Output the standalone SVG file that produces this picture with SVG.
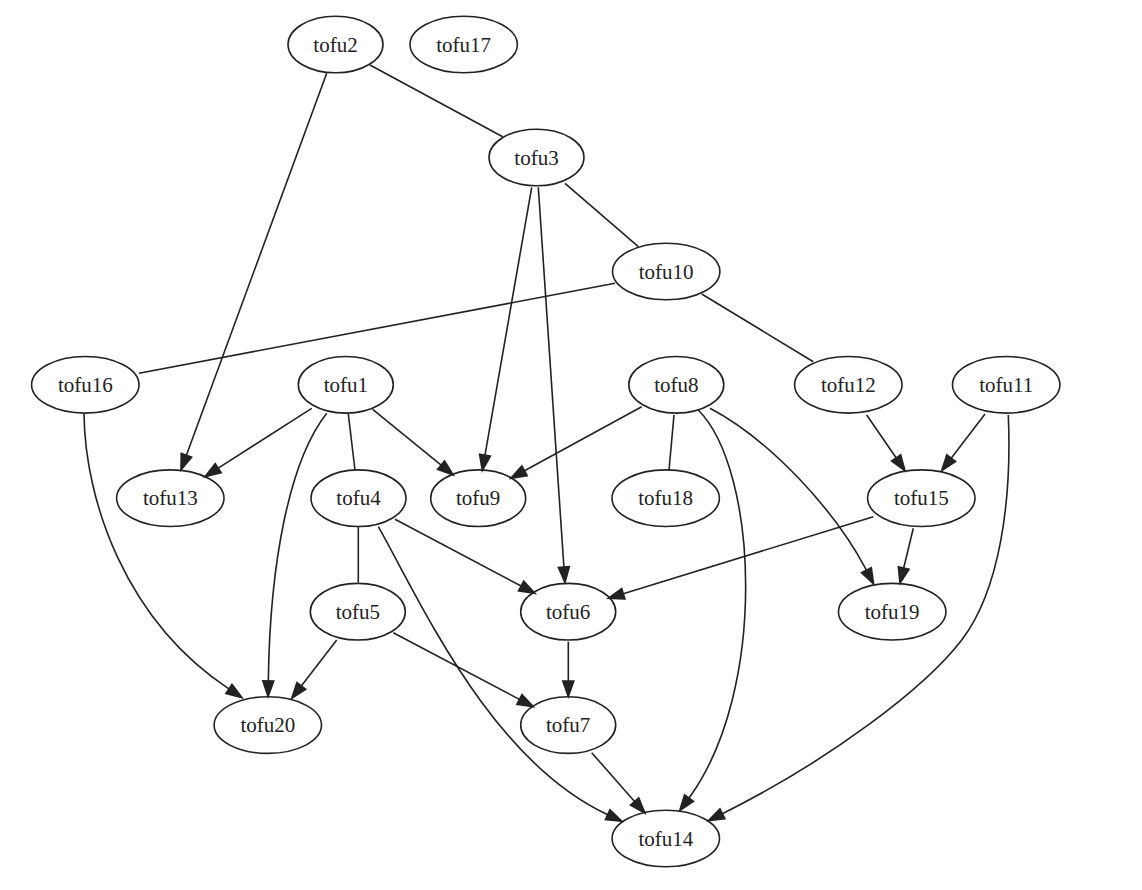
<svg xmlns="http://www.w3.org/2000/svg" width="1142" height="890" viewBox="0 0 1142 890">
<style>
.n ellipse{fill:none;stroke:#222;stroke-width:1.6}
.n text{font-family:"Liberation Serif","Times New Roman",serif;font-size:21px;fill:#222;text-anchor:middle}
.e path{fill:none;stroke:#222;stroke-width:1.6}
.e path.a{marker-end:url(#arr)}
</style>
<defs>
<marker id="arr" markerUnits="userSpaceOnUse" viewBox="0 -7 18 14" markerWidth="18" markerHeight="14" refX="0" refY="0" orient="auto" overflow="visible">
<path d="M0,-5.5 L15.7,0 L0,5.5 z" fill="#222" stroke="#222" stroke-width="1.6"/>
</marker>
</defs>
<rect width="1142" height="890" fill="#fff"/>
<g id="edges" class="e">
<path d="M370,65 L502.7,136.7"/>
<path class="a" d="M326.7,73.3 L186.4,455.3"/>
<path class="a" d="M531.7,187.3 L485,455.2"/>
<path class="a" d="M538.3,187.3 L563.9,567"/>
<path d="M565,183.3 L638.3,246.7"/>
<path d="M615,283.3 L139,373.3"/>
<path d="M701.7,294 L813.3,361.7"/>
<path class="a" d="M84,414 C85,500 125,620 228.9,688.9"/>
<path class="a" d="M311.7,408.3 L218.2,468.2"/>
<path class="a" d="M326.7,413.3 C290,460 270,560 268.3,681"/>
<path d="M348.3,414 L355,470"/>
<path class="a" d="M372.7,409.3 L441.1,465.1"/>
<path class="a" d="M641.7,406.7 L524.5,470.8"/>
<path d="M674,415 L669,470"/>
<path class="a" d="M698.3,410 C758,470 768,690 689,798"/>
<path class="a" d="M710,408.3 C770,440 835,510 866.4,570.2"/>
<path class="a" d="M866.7,415 L896.1,457.8"/>
<path class="a" d="M985,414 L951.2,458.2"/>
<path class="a" d="M1008.3,415 C1012,500 1000,590 961.7,640 C925,688 830,760 722.4,813.7"/>
<path class="a" d="M873.3,516.7 L623.3,593.7"/>
<path class="a" d="M913.3,528.3 L903.7,568"/>
<path d="M358.3,526.7 L358.3,582.7"/>
<path class="a" d="M395,519.3 L521.1,586"/>
<path class="a" d="M378.3,526.7 C420,600 490,760 607.7,814.7"/>
<path class="a" d="M336.7,640 L301.3,685.9"/>
<path class="a" d="M393.3,632.7 L519.4,699.4"/>
<path class="a" d="M568.3,641.7 L568.3,681"/>
<path class="a" d="M591.7,752.7 L634.6,801.5"/>
</g>
<g id="tofu2" class="n"><ellipse cx="335.5" cy="44.5" rx="47.5" ry="28.3"/><text x="335.5" y="51.5">tofu2</text></g>
<g id="tofu17" class="n"><ellipse cx="463.7" cy="44.5" rx="53.7" ry="28.3"/><text x="463.7" y="51.5">tofu17</text></g>
<g id="tofu3" class="n"><ellipse cx="536.5" cy="157.5" rx="47.5" ry="28.3"/><text x="536.5" y="164.5">tofu3</text></g>
<g id="tofu10" class="n"><ellipse cx="666.2" cy="271.5" rx="53.7" ry="28.3"/><text x="666.2" y="278.5">tofu10</text></g>
<g id="tofu16" class="n"><ellipse cx="85.3" cy="384.8" rx="53.7" ry="28.3"/><text x="85.3" y="391.8">tofu16</text></g>
<g id="tofu1" class="n"><ellipse cx="345.8" cy="384.8" rx="47.5" ry="28.3"/><text x="345.8" y="391.8">tofu1</text></g>
<g id="tofu8" class="n"><ellipse cx="676.3" cy="384.8" rx="47.5" ry="28.3"/><text x="676.3" y="391.8">tofu8</text></g>
<g id="tofu12" class="n"><ellipse cx="848.3" cy="384.8" rx="53.7" ry="28.3"/><text x="848.3" y="391.8">tofu12</text></g>
<g id="tofu11" class="n"><ellipse cx="1006.2" cy="384.8" rx="53.7" ry="28.3"/><text x="1006.2" y="391.8">tofu11</text></g>
<g id="tofu13" class="n"><ellipse cx="170.3" cy="498.2" rx="53.7" ry="28.3"/><text x="170.3" y="505.2">tofu13</text></g>
<g id="tofu4" class="n"><ellipse cx="358.5" cy="498.2" rx="47.5" ry="28.3"/><text x="358.5" y="505.2">tofu4</text></g>
<g id="tofu9" class="n"><ellipse cx="478.2" cy="498.2" rx="47.5" ry="28.3"/><text x="478.2" y="505.2">tofu9</text></g>
<g id="tofu18" class="n"><ellipse cx="665.7" cy="498.2" rx="53.7" ry="28.3"/><text x="665.7" y="505.2">tofu18</text></g>
<g id="tofu15" class="n"><ellipse cx="921.3" cy="498.2" rx="53.7" ry="28.3"/><text x="921.3" y="505.2">tofu15</text></g>
<g id="tofu5" class="n"><ellipse cx="357.8" cy="611.7" rx="47.5" ry="28.3"/><text x="357.8" y="618.7">tofu5</text></g>
<g id="tofu6" class="n"><ellipse cx="568.2" cy="611.7" rx="47.5" ry="28.3"/><text x="568.2" y="618.7">tofu6</text></g>
<g id="tofu19" class="n"><ellipse cx="892.2" cy="611.7" rx="53.7" ry="28.3"/><text x="892.2" y="618.7">tofu19</text></g>
<g id="tofu20" class="n"><ellipse cx="267.8" cy="725.1" rx="53.7" ry="28.3"/><text x="267.8" y="732.1">tofu20</text></g>
<g id="tofu7" class="n"><ellipse cx="568.2" cy="725.1" rx="47.5" ry="28.3"/><text x="568.2" y="732.1">tofu7</text></g>
<g id="tofu14" class="n"><ellipse cx="665.8" cy="838.5" rx="53.7" ry="28.3"/><text x="665.8" y="845.5">tofu14</text></g>
</svg>
